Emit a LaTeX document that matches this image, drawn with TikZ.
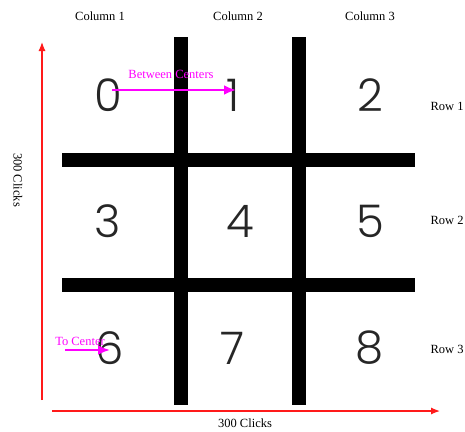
\documentclass[tikz,border=0pt]{standalone}
\usepackage{fontspec}
\setmainfont{Liberation Serif}
\newfontfamily\digitfont{Poppins}[UprightFont={* Light}]
\usetikzlibrary{positioning,arrows.meta}
\definecolor{axisred}{HTML}{FF1A1A}
\definecolor{hint}{HTML}{FF00FF}

\begin{document}
\begin{tikzpicture}[x=1pt, y=-1pt, >=Latex, font=\fontsize{12.5}{14}\selectfont,
    cell/.style={font=\digitfont\fontsize{45}{45}\selectfont, text=black!85, inner sep=0pt},
    bar/.style={line width=14pt},
    axis/.style={->, draw=axisred, line width=1.2pt, >={Latex[length=9pt,width=7pt]}},
    hintarrow/.style={->, draw=hint, line width=2.5pt, >={Latex[length=12pt,width=10pt]}},
    hinttext/.style={text=hint, inner sep=1pt}]
  \useasboundingbox (0,0) rectangle (465,431);

  % grid bars
  \draw[bar] (181,37) -- (181,405);
  \draw[bar] (299,37) -- (299,405);
  \draw[bar] (62,160) -- (415,160);
  \draw[bar] (62,285) -- (415,285);

  % cells
  \node[cell] (d0) at (108,95) {0};
  \node[cell] (d1) at (233,95) {1};
  \node[cell] (d2) at (370,95) {2};
  \node[cell] (d3) at (108,221) {3};
  \node[cell] (d4) at (240,221) {4};
  \node[cell] (d5) at (370,221) {5};
  \node[cell] (d6) at (110,348) {6};
  \node[cell] (d7) at (232,348) {7};
  \node[cell] (d8) at (370,348) {8};

  % headers
  \node (col1) at (100,16) {Column 1};
  \node (col2) at (238,16) {Column 2};
  \node (col3) at (370,16) {Column 3};
  \node (row1) at (447,106) {Row 1};
  \node (row2) at (447,220) {Row 2};
  \node (row3) at (447,349) {Row 3};

  % axes
  \coordinate (ybot) at (42,400);
  \coordinate (ytop) at (42,42);
  \coordinate (xleft) at (52,411);
  \coordinate (xright) at (440,411);
  \draw[axis] (ybot) -- (ytop);
  \draw[axis] (xleft) -- (xright);
  \node[rotate=-90] (ylab) at (18,180) {300 Clicks};
  \node (xlab) at (245,423) {300 Clicks};

  % hints
  \draw[hintarrow] ([xshift=4pt,yshift=5pt]d0.center) -- ([xshift=3pt,yshift=5pt]d1.center);
  \node[hinttext] (between) at (171,74) {Between Centers};
  \coordinate (tcstart) at (65,350);
  \draw[hintarrow] (tcstart) -- ([yshift=-2pt]d6.center);
  \node[hinttext] (tocenter) at (80,341) {To Center};
\end{tikzpicture}
\end{document}
